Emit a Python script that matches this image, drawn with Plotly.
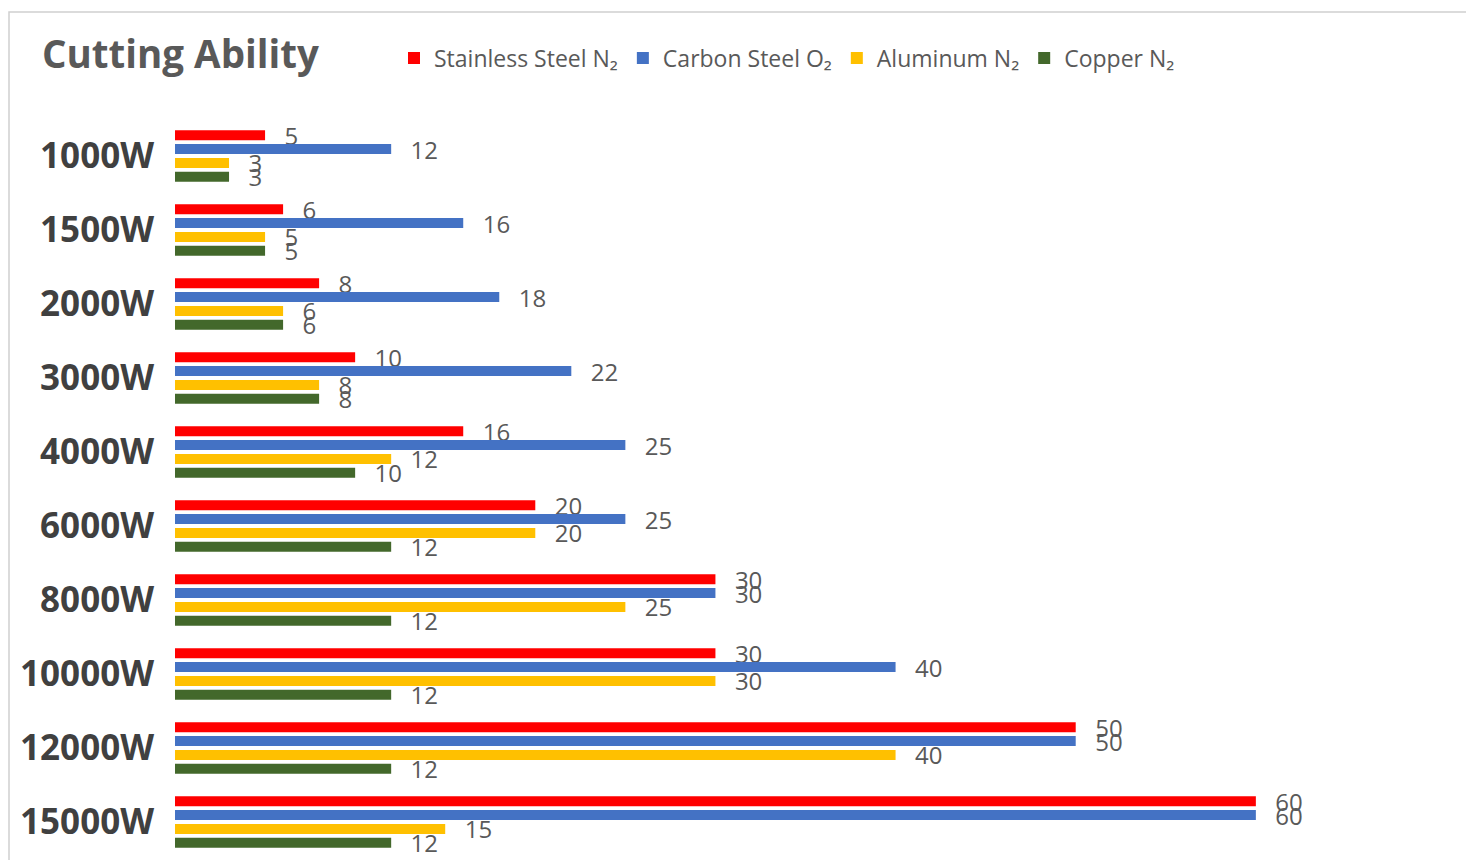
import plotly.graph_objects as go

categories = ["1000W", "1500W", "2000W", "3000W", "4000W", "6000W", "8000W", "10000W", "12000W", "15000W"]
stainless_n2 = [5, 6, 8, 10, 16, 20, 30, 30, 50, 60]
carbon_o2 = [12, 16, 18, 22, 25, 25, 30, 40, 50, 60]
aluminum_n2 = [3, 5, 6, 8, 12, 20, 25, 30, 40, 15]
copper_n2 = [3, 5, 6, 8, 10, 12, 12, 12, 12, 12]

series = [
    ("Stainless Steel N₂", stainless_n2, "#FF0000"),
    ("Carbon Steel O₂", carbon_o2, "#4472C4"),
    ("Aluminum N₂", aluminum_n2, "#FFC000"),
    ("Copper N₂", copper_n2, "#43682B"),
]

FONT = "Open Sans"
fig = go.Figure()
for name, vals, color in series:
    fig.add_trace(go.Bar(
        name=name, y=categories, x=vals, orientation="h",
        marker=dict(color=color, line=dict(width=0)),
        text=["\u00a0\u00a0\u2009" + str(v) for v in vals],
        textposition="outside", cliponaxis=False, constraintext="none",
        textfont=dict(family=FONT, size=24, color="#595959"),
        textangle=0,
    ))

W, H = 1466, 852
ml, mr, mt, mb = 167, 38, 111, 1
pw, ph = W - ml - mr, H - mt - mb

fig.update_layout(
    width=W, height=H,
    margin=dict(l=ml, r=mr, t=mt, b=mb),
    paper_bgcolor="white", plot_bgcolor="white",
    barmode="group", bargap=0.25, bargroupgap=0.28,
    font=dict(family=FONT, color="#595959"),
    title=dict(text="<b>Cutting Ability</b>", x=34 / W, xanchor="left",
               xref="container", yref="container", y=1 - 47 / H, yanchor="middle",
               font=dict(family=FONT, size=38.5, color="#595959")),
    legend=dict(orientation="h", xref="container", yref="container",
                x=386 / W, xanchor="left", y=1 - 50 / H, yanchor="middle",
                font=dict(family=FONT, size=23, color="#595959"),
                itemwidth=30, traceorder="normal", bgcolor="rgba(0,0,0,0)"),
    xaxis=dict(range=[0, 70], visible=False, showgrid=False, zeroline=False),
    yaxis=dict(autorange="reversed", showgrid=False, zeroline=False, showline=False,
               ticks="", ticklabelstandoff=20,
               tickfont=dict(family=FONT, size=35, color="#404040", weight="bold")),
    shapes=[dict(type="rect", xref="paper", yref="paper",
                 x0=(1 - ml) / pw, x1=(1464 - ml) / pw,
                 y0=(H - mb - 870) / ph, y1=(H - mb - 4) / ph,
                 line=dict(color="#D0D0D0", width=1.5), fillcolor="rgba(0,0,0,0)",
                 layer="below")],
)

fig.write_html("out.html")
